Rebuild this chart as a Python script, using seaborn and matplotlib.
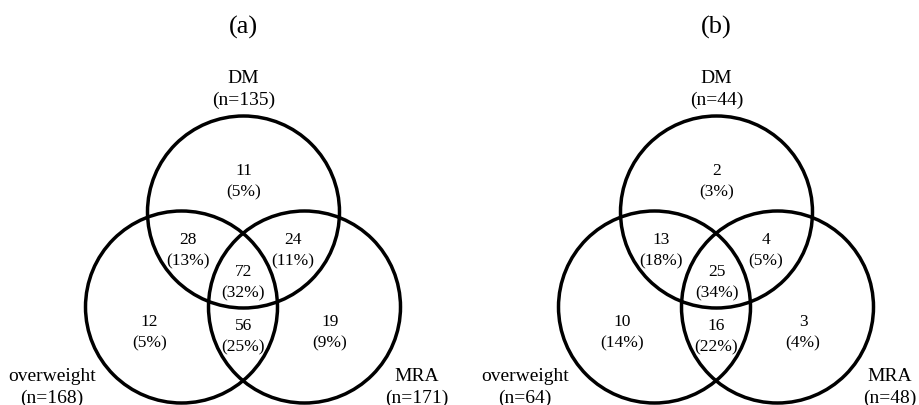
import matplotlib
matplotlib.use("Agg")
import matplotlib.pyplot as plt
from matplotlib.patches import Circle
import seaborn as sns

# region order: DM only, DM&overweight, DM&MRA, all three, overweight only, overweight&MRA, MRA only
panel_titles = ["(a)", "(b)"]
set_names = ["DM", "overweight", "MRA"]
set_sizes_a = [135, 168, 171]
set_sizes_b = [44, 64, 48]
counts_a = [11, 28, 24, 72, 12, 56, 19]
counts_b = [2, 13, 4, 25, 10, 16, 3]
percent_a = [5, 13, 11, 32, 5, 25, 9]
percent_b = [3, 18, 5, 34, 14, 22, 4]

# layout (pixels, relative to each panel centre x)
W, H = 919, 406
panel_x = [243.5, 716.5]
radius = 96
circle_pos = [(0, 213), (-62, 308), (61, 308)]
region_pos = [(0, 175), (-55.5, 244), (49.5, 244), (0, 276),
              (-94, 326), (0, 330), (86.5, 326)]
label_pos = [(0, 82.7), (-191.5, 380.7), (173.5, 380.7)]
line_gap = 21
label_gap = 22.5

sns.set_theme(style="white")
plt.rcParams['font.family'] = ['Liberation Serif', 'DejaVu Serif']

fig = plt.figure(figsize=(W / 100, H / 100), dpi=100)
ax = fig.add_axes([0, 0, 1, 1])
ax.set_xlim(0, W)
ax.set_ylim(H, 0)
ax.axis('off')

panels = [
    (set_sizes_a, counts_a, percent_a),
    (set_sizes_b, counts_b, percent_b),
]

for px, title, (sizes, counts, pcts) in zip(panel_x, panel_titles, panels):
    ax.text(px, 33.3, title, ha='center', va='baseline', fontsize=19, color='black')

    for cx, cy in circle_pos:
        ax.add_patch(Circle((px + cx, cy), radius, fill=False, edgecolor='black', lw=2.5))

    for (rx, ry), c, p in zip(region_pos, counts, pcts):
        ax.text(px + rx, ry, str(c), ha='center', va='baseline', fontsize=12.5, color='black')
        ax.text(px + rx, ry + line_gap, f"({p}%)", ha='center', va='baseline', fontsize=12.5, color='black')

    for (lx, ly), name, n in zip(label_pos, set_names, sizes):
        ax.text(px + lx, ly, name, ha='center', va='baseline', fontsize=14, color='black')
        ax.text(px + lx, ly + label_gap, f"(n={n})", ha='center', va='baseline', fontsize=14, color='black')

fig.savefig("out.png", dpi=100, facecolor='white')
